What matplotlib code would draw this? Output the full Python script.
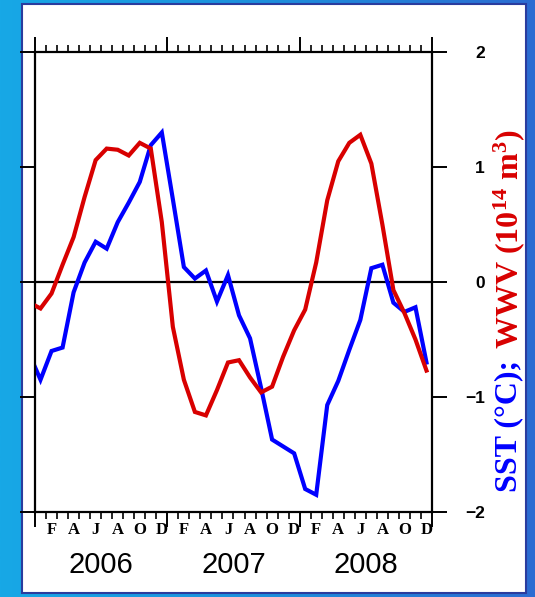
import matplotlib
matplotlib.use("Agg")
import matplotlib.pyplot as plt
import numpy as np
from matplotlib.colors import LinearSegmentedColormap
from matplotlib.patches import Rectangle
from matplotlib.ticker import FixedLocator, NullFormatter

# monthly values, Dec 2005 .. Dec 2008
sst = [-0.63, -0.85, -0.60, -0.57, -0.09, 0.17, 0.35, 0.29, 0.52, 0.69, 0.87, 1.19, 1.30,
       0.72, 0.13, 0.03, 0.10, -0.17, 0.06, -0.29, -0.49, -0.92, -1.37, -1.43, -1.49,
       -1.80, -1.85, -1.07, -0.86, -0.59, -0.33, 0.12, 0.15, -0.18, -0.26, -0.22, -0.70]
wwv = [-0.18, -0.23, -0.10, 0.15, 0.39, 0.74, 1.06, 1.16, 1.15, 1.10, 1.21, 1.16, 0.52,
       -0.39, -0.85, -1.13, -1.16, -0.94, -0.70, -0.68, -0.83, -0.96, -0.91, -0.65, -0.42,
       -0.24, 0.17, 0.71, 1.05, 1.21, 1.28, 1.03, 0.50, -0.07, -0.27, -0.50, -0.77]
years = ["2006", "2007", "2008"]
month_letters = ["F", "A", "J", "A", "O", "D"]
yticks = [-2, -1, 0, 1, 2]

W, H = 535, 597
fig = plt.figure(figsize=(W / 100, H / 100), dpi=100)

# blue gradient frame with white panel
bg = fig.add_axes([0, 0, 1, 1], zorder=-10)
cmap = LinearSegmentedColormap.from_list("frame", ["#17a8e6", "#1d8fdc", "#2c6cd2"])
bg.imshow(np.linspace(0, 1, 256)[None, :], aspect="auto", cmap=cmap, extent=[0, 1, 0, 1])
bg.add_patch(Rectangle((22 / W, 4 / H), (526 - 22) / W, (594 - 5) / H,
                       facecolor="white", edgecolor="#2a3c9e", linewidth=1.5))
bg.set_xlim(0, 1)
bg.set_ylim(0, 1)
bg.axis("off")

left, right, top, bottom = 35, 432, 52, 512
ax = fig.add_axes([left / W, 1 - bottom / H, (right - left) / W, (bottom - top) / H])
ax.set_facecolor("none")

x = np.arange(len(sst)) - 0.5  # month centres, Jan 2006 = 0.5
ax.axhline(0, color="black", lw=1.6, zorder=1)
ax.plot(x, wwv, color="#d80000", lw=3.0, zorder=3, solid_joinstyle="miter")
ax.plot(x, sst, color="#0000ff", lw=3.0, zorder=2, solid_joinstyle="miter")
ax.set_xlim(0, 36)
ax.set_ylim(-2, 2)

for s in ax.spines.values():
    s.set_linewidth(1.6)

ax.xaxis.set_major_locator(FixedLocator([0, 12, 24, 36]))
ax.xaxis.set_minor_locator(FixedLocator(range(1, 36)))
ax.xaxis.set_major_formatter(NullFormatter())
ax.tick_params(axis="x", which="major", direction="out", length=11, width=1.4,
               top=True, bottom=True)
ax.tick_params(axis="x", which="minor", direction="out", length=5, width=1.2,
               top=True, bottom=True)

ax.set_yticks(yticks)
ax.set_yticklabels(["\u22122" if v == -2 else "\u22121" if v == -1 else str(v) for v in yticks])
ax.tick_params(axis="y", direction="out", length=11, width=1.4, left=True, right=True,
               labelleft=False, labelright=True, pad=27)
for lab in ax.get_yticklabels():
    lab.set_horizontalalignment("right")
    lab.set_fontfamily("Liberation Sans")
    lab.set_fontweight("bold")
    lab.set_fontsize(12.5)

# month initials under the axis, and years below them
for yr in range(3):
    for k, letter in enumerate(month_letters):
        ax.text(yr * 12 + 2 * k + 1.5, -0.022, letter, transform=ax.get_xaxis_transform(),
                ha="center", va="top", fontsize=12, fontweight="bold",
                family="Liberation Serif")
    ax.text(yr * 12 + 6, -0.115, years[yr], transform=ax.get_xaxis_transform(),
            ha="center", va="center", fontsize=21, family="Liberation Sans")

# two-colour right-hand label
plt.rcParams["mathtext.fontset"] = "custom"
plt.rcParams["mathtext.rm"] = "Liberation Serif:bold"
plt.rcParams["mathtext.default"] = "rm"
lab_x = 509 / W
t1 = fig.text(lab_x, 1 - 492 / H, "SST (\u00b0C);", rotation=90, color="#0000ff",
              ha="center", va="bottom", fontsize=23, fontweight="bold",
              family="Liberation Serif")
fig.canvas.draw()
bb = t1.get_window_extent()
fig.text(lab_x, (bb.y1 + 11) / H, r"WWV (10$^{14}$ m$^{3}$)", rotation=90, color="#d80000",
         ha="center", va="bottom", fontsize=23, fontweight="bold",
         family="Liberation Serif")

fig.savefig("out.png", dpi=100)
